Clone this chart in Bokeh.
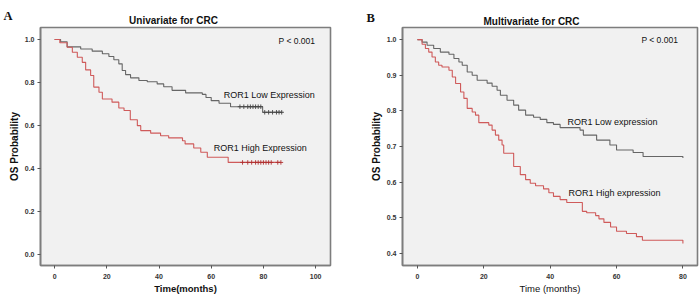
import numpy as np
from bokeh.plotting import figure
from bokeh.layouts import row, column
from bokeh.models import FixedTicker, PrintfTickFormatter, Label
from bokeh.embed import file_html
from bokeh.resources import INLINE

# ---------------- Data ----------------
# Panel A (Univariate)
a_low_t = [0, 2.3, 4.8, 10.0, 14.4, 18.3, 20.8, 22.7, 24.6, 25.9, 27.2, 29.1, 32.3, 35.5, 39.3, 41.8, 45.0,
           50.2, 56.6, 58.0, 60.0, 63.0, 67.4, 79.7, 87.3]
a_low_s = [1.0, 0.99, 0.966, 0.956, 0.946, 0.934, 0.921, 0.906, 0.887, 0.856, 0.837, 0.822, 0.810, 0.804,
           0.794, 0.781, 0.764, 0.752, 0.745, 0.731, 0.716, 0.704, 0.688, 0.662, 0.662]
a_low_cens = [71, 72.5, 74, 75, 76, 77, 78, 79, 80.5, 82, 83.5, 85, 86, 87]

a_high_t = [0, 2, 4.8, 6.8, 8.7, 10.6, 11.9, 13.8, 15, 17, 18.3, 22, 24.6, 26.6, 29, 31.7, 33, 36.8, 40.6,
            43.7, 49, 50, 53.3, 56, 58.5, 66.5, 86.7]
a_high_s = [1.0, 0.985, 0.964, 0.941, 0.918, 0.894, 0.859, 0.833, 0.779, 0.755, 0.724, 0.709, 0.682, 0.670,
            0.627, 0.600, 0.577, 0.565, 0.553, 0.543, 0.530, 0.515, 0.496, 0.476, 0.453, 0.429, 0.429]
a_high_cens = [72, 74, 75.5, 77, 78, 79, 80, 81, 82, 83, 85.5, 86.7]

# Panel B (Multivariate)
b_low_t = [0, 1.4, 2.9, 4.9, 6.9, 9.5, 11, 12.5, 13.5, 15, 16.5, 18, 21, 22.5, 24, 25, 27, 29, 30.5, 32.6,
           35, 37, 39, 41, 43, 49, 50, 54, 58, 60, 65, 68, 80]
b_low_s = [1.0, 0.993, 0.984, 0.975, 0.965, 0.959, 0.947, 0.937, 0.928, 0.909, 0.900, 0.886, 0.878, 0.869,
           0.858, 0.844, 0.830, 0.816, 0.802, 0.788, 0.782, 0.776, 0.767, 0.762, 0.753, 0.746, 0.732, 0.718,
           0.704, 0.690, 0.683, 0.672, 0.668]

b_high_t = [0, 1.4, 2.4, 3.4, 4.4, 5.4, 6.4, 7.4, 9.5, 10.5, 11.5, 13, 14, 15, 16.5, 17.5, 18.5, 21.5, 22.5,
            23.5, 24.5, 25.5, 26, 29, 31, 32.6, 34, 35.6, 38, 39.6, 41, 43, 45, 49.7, 51, 53.7, 54.7, 56.2,
            58.2, 60, 63, 66, 67.8, 80]
b_high_s = [1.0, 0.987, 0.975, 0.965, 0.951, 0.937, 0.928, 0.923, 0.914, 0.895, 0.877, 0.853, 0.835, 0.807,
            0.797, 0.788, 0.767, 0.760, 0.746, 0.732, 0.718, 0.704, 0.681, 0.644, 0.621, 0.607, 0.597, 0.590,
            0.581, 0.570, 0.560, 0.551, 0.543, 0.518, 0.514, 0.506, 0.497, 0.487, 0.474, 0.462, 0.456, 0.447,
            0.437, 0.428]

a_xticks = [0, 20, 40, 60, 80, 100]
a_yticks = [0.0, 0.2, 0.4, 0.6, 0.8, 1.0]
b_xticks = [0, 20, 40, 60, 80]
b_yticks = [0.4, 0.5, 0.6, 0.7, 0.8, 0.9, 1.0]

GRAY = "#666666"
RED = "#cf5a5a"
SANS = "Liberation Sans"
HEADER_H = 26


def step_at(ts, ss, t):
    idx = np.searchsorted(np.asarray(ts), np.asarray(t), side="right") - 1
    return list(np.asarray(ss)[idx])


def make_fig(width, xr, yr, border_left, border_right, xticks, yticks, xlabel, xlabel_style):
    p = figure(width=width, height=301 - HEADER_H, x_range=xr, y_range=yr, output_backend="svg",
               toolbar_location=None, min_border_left=border_left, min_border_right=border_right,
               min_border_top=1, min_border_bottom=36)
    p.background_fill_color = "#f1f1f1"
    p.border_fill_color = "white"
    p.outline_line_color = "#7d7d7d"
    p.outline_line_width = 1.6
    p.grid.visible = False
    for ax in (p.xaxis[0], p.yaxis[0]):
        ax.axis_line_color = "#7d7d7d"
        ax.axis_line_width = 1.6
        ax.major_tick_in = 0
        ax.major_tick_out = 3
        ax.major_tick_line_color = "#555555"
        ax.minor_tick_line_color = None
        ax.major_label_text_font = SANS
        ax.major_label_text_font_style = "bold"
        ax.major_label_text_font_size = "7px"
        ax.major_label_text_color = "#333333"
        ax.axis_label_text_font = SANS
        ax.axis_label_text_color = "#111111"
    p.xaxis.ticker = FixedTicker(ticks=xticks)
    p.yaxis.ticker = FixedTicker(ticks=yticks)
    p.yaxis.formatter = PrintfTickFormatter(format="%.1f")
    p.xaxis.major_label_standoff = 5
    p.yaxis.major_label_standoff = 3
    p.xaxis.axis_label = xlabel
    p.xaxis.axis_label_text_font_size = "9.5px"
    p.xaxis.axis_label_text_font_style = xlabel_style
    p.xaxis.axis_label_standoff = 1
    p.yaxis.axis_label = "OS Probability"
    p.yaxis.axis_label_text_font_size = "10px"
    p.yaxis.axis_label_text_font_style = "bold"
    p.yaxis.axis_label_standoff = 2
    return p


def add_text(p, x, y, txt, size, style="normal", font=SANS, align="left", baseline="middle",
             color="#111111"):
    p.add_layout(Label(x=x, y=y, text=txt, text_font=font, text_font_size=size, text_font_style=style,
                       text_align=align, text_baseline=baseline, text_color=color))


# ---------------- Header (panel letters and titles) ----------------
hdr = figure(width=700, height=HEADER_H, x_range=(0, 700), y_range=(0, HEADER_H), output_backend="svg",
             toolbar_location=None, min_border=0, x_axis_location=None, y_axis_location=None)
hdr.outline_line_color = None
hdr.grid.visible = False
hdr.background_fill_color = "white"
add_text(hdr, 3, HEADER_H - 15.5, "A", "12.5px", style="bold", font="Liberation Serif", baseline="alphabetic")
add_text(hdr, 173, HEADER_H - 20, "Univariate for CRC", "10px", style="bold", align="center",
         baseline="alphabetic")
add_text(hdr, 366, HEADER_H - 17, "B", "12.5px", style="bold", font="Liberation Serif", baseline="alphabetic")
add_text(hdr, 531, HEADER_H - 20.5, "Multivariate for CRC", "10px", style="bold", align="center",
         baseline="alphabetic")

# ---------------- Panel A ----------------
pa = make_fig(355, (-5.4, 105.7), (-0.05, 1.056), 40, 25, a_xticks, a_yticks, "Time(months)", "bold")
pa.step(a_low_t, a_low_s, mode="after", line_color=GRAY, line_width=1.1)
pa.step(a_high_t, a_high_s, mode="after", line_color=RED, line_width=1.1)
pa.scatter(a_low_cens, step_at(a_low_t, a_low_s, a_low_cens), marker="cross", size=4.5,
           line_color="#444444", line_width=0.9)
pa.scatter(a_high_cens, step_at(a_high_t, a_high_s, a_high_cens), marker="cross", size=4.5,
           line_color="#b03030", line_width=0.9)
add_text(pa, 85.8, 0.995, "P < 0.001", "8.5px")
add_text(pa, 64.8, 0.742, "ROR1 Low Expression", "9px")
add_text(pa, 61.0, 0.495, "ROR1 High Expression", "9px")

# ---------------- Panel B ----------------
pb = make_fig(345, (-4.5, 84.4), (0.366, 1.034), 47, 3, b_xticks, b_yticks, "Time (months)", "normal")
pb.step(b_low_t, b_low_s, mode="after", line_color=GRAY, line_width=1.1)
pb.step(b_high_t, b_high_s, mode="after", line_color=RED, line_width=1.1)
add_text(pb, 67.5, 0.998, "P < 0.001", "8.5px")
add_text(pb, 45.2, 0.768, "ROR1 Low expression", "9px")
add_text(pb, 45.5, 0.570, "ROR1 High expression", "9px")

layout = column(hdr, row(pa, pb))
open("out.html", "w").write(file_html(layout, INLINE))
